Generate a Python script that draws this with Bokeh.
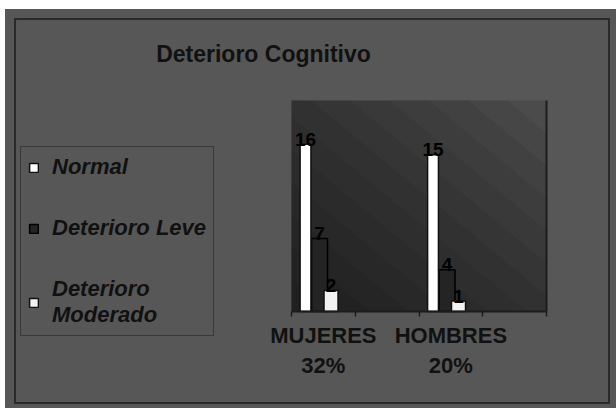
from bokeh.plotting import figure
from bokeh.layouts import column
from bokeh.models import (ColumnDataSource, FixedTicker, LinearAxis, Legend, LegendItem,
                          Range1d, PolyAnnotation, BoxAnnotation, Label)
from bokeh.transform import dodge
from bokeh.core.properties import value
from bokeh.embed import file_html
from bokeh.resources import INLINE

# ---- data ----
title_text = "Deterioro Cognitivo"
categories = ["MUJERES", "HOMBRES"]
percents = ["32%", "20%"]
normal = [16, 15]
leve = [7, 4]
moderado = [2, 1]
series_names = ["Normal", "Deterioro Leve", "Deterioro\nModerado"]

# category slots on a 4-slot axis (Excel style: every other slot used)
slot_edges = [0, 1, 2, 3, 4]
slot_centers = [0.5, 2.5]

src = ColumnDataSource(dict(
    pos=slot_centers, normal=normal, leve=leve, moderado=moderado,
    nl=[str(v) for v in normal], ll=[str(v) for v in leve], ml=[str(v) for v in moderado],
))

FONT = "Liberation Sans"
BG = "#575757"
DARK = "#1c1c1c"

# ---- layout (pixels inside the bordered chart area) ----
PW, PH = 592, 382                 # chart area size
WALL_L, WALL_R = 275, 530         # plot wall left/right (px from left)
WALL_T, WALL_B = 80, 291          # plot wall top/bottom (px from top)
X0, X1, Y0, Y1 = 0, 4, 0, 20.2    # wall data extents
kx = (WALL_R - WALL_L) / (X1 - X0)
ky = (WALL_B - WALL_T) / (Y1 - Y0)
x_range = Range1d(X0 - WALL_L / kx, X1 + (PW - WALL_R) / kx)
y_range = Range1d(Y0 - (PH - WALL_B) / ky, Y1 + WALL_T / ky)

p = figure(width=PW, height=PH, x_range=x_range, y_range=y_range, title=None,
           output_backend="svg", toolbar_location=None,
           x_axis_location=None, y_axis_location=None,
           min_border=0, min_border_left=0, min_border_right=0,
           min_border_top=0, min_border_bottom=0)
p.background_fill_color = BG
p.border_fill_color = BG
p.outline_line_color = None
p.grid.visible = False
p.margin = (11, 0, 0, 11)
p.styles = {"outline": "2px solid #2a2a2a"}

# plot wall with diagonal shading (dark bottom-left -> light top-right)
p.add_layout(BoxAnnotation(left=X0, right=X1, bottom=Y0, top=Y1, fill_color="#4b4b4b",
                           fill_alpha=1, line_color=None, level="underlay"))
n = 12
W, H = X1 - X0, Y1 - Y0
for i in range(1, n + 1):
    c = 2.0 * i / (n + 1)
    if c <= 1:
        xs = [X0, X0 + c * W, X0]
        ys = [Y0, Y0, Y0 + c * H]
    else:
        xs = [X0, X1, X1, X0 + (c - 1) * W, X0]
        ys = [Y0, Y0, Y0 + (c - 1) * H, Y1, Y1]
    p.add_layout(PolyAnnotation(xs=xs, ys=ys, fill_color="black", fill_alpha=0.06,
                                line_color=None, level="underlay"))

# bottom axis at y=0: minor ticks at slot edges, labels at slot centers
xaxis = LinearAxis(ticker=FixedTicker(ticks=slot_centers, minor_ticks=slot_edges),
                   major_label_overrides={c: f"{n_}\n{pc}" for c, n_, pc in zip(slot_centers, categories, percents)},
                   fixed_location=Y0, bounds=(X0, X1))
xaxis.axis_line_color = DARK
xaxis.axis_line_width = 2
xaxis.major_tick_line_color = None
xaxis.minor_tick_in = 0
xaxis.minor_tick_out = 5
xaxis.minor_tick_line_color = DARK
xaxis.minor_tick_line_width = 1.5
xaxis.major_label_text_font = FONT
xaxis.major_label_text_font_style = "bold"
xaxis.major_label_text_font_size = "22px"
xaxis.major_label_text_color = "#111111"
xaxis.major_label_standoff = 5
p.add_layout(xaxis, "below")

raxis = LinearAxis(ticker=FixedTicker(ticks=[]), fixed_location=X1, bounds=(Y0, Y1))
raxis.axis_line_color = DARK
raxis.axis_line_width = 2
raxis.major_tick_line_color = None
raxis.minor_tick_line_color = None
raxis.major_label_text_font_size = "0px"
p.add_layout(raxis, "right")

# bars
rl = p.vbar(x=dodge("pos", -0.06), top="leve", bottom=0, width=0.25, source=src,
            fill_color="#242424", line_color="#000000", line_width=1.5)
rn = p.vbar(x=dodge("pos", -0.28), top="normal", bottom=0, width=0.17, source=src,
            fill_color="#ffffff", line_color="#111111", line_width=1.5)
rm = p.vbar(x=dodge("pos", 0.12), top="moderado", bottom=0, width=0.22, source=src,
            fill_color="#f2f2f2", line_color="#111111", line_width=1.5)

for off, col, top in [(-0.28, "nl", "normal"), (-0.06, "ll", "leve"), (0.12, "ml", "moderado")]:
    p.text(x=dodge("pos", off), y=top, text=col, source=src,
           text_align="center", text_baseline="alphabetic", y_offset=-5,
           text_font=value(FONT), text_font_style="bold", text_font_size="19px",
           text_color="#000000")

# legend
legend = Legend(items=[LegendItem(label=series_names[0], renderers=[rn]),
                       LegendItem(label=series_names[1], renderers=[rl]),
                       LegendItem(label=series_names[2], renderers=[rm])],
                location=(4, 66))
legend.label_text_font = FONT
legend.label_text_font_style = "bold italic"
legend.label_text_font_size = "22px"
legend.label_text_color = "#111111"
legend.glyph_width = 11
legend.glyph_height = 11
legend.label_standoff = 13
legend.spacing = 35
legend.padding = 7
legend.margin = 0
legend.border_line_color = DARK
legend.border_line_width = 1.5
legend.background_fill_alpha = 0
p.add_layout(legend)

# title
p.add_layout(Label(x=247, y=PH - 33, x_units="screen", y_units="screen", text=title_text,
                   text_align="center", text_baseline="alphabetic",
                   text_font=FONT, text_font_style="bold", text_font_size="23px",
                   text_color="#111111"))

root = column(p, width=611, height=399, margin=(9, 0, 0, 5), styles={"background-color": BG})

open("out.html", "w").write(file_html(root, INLINE))
